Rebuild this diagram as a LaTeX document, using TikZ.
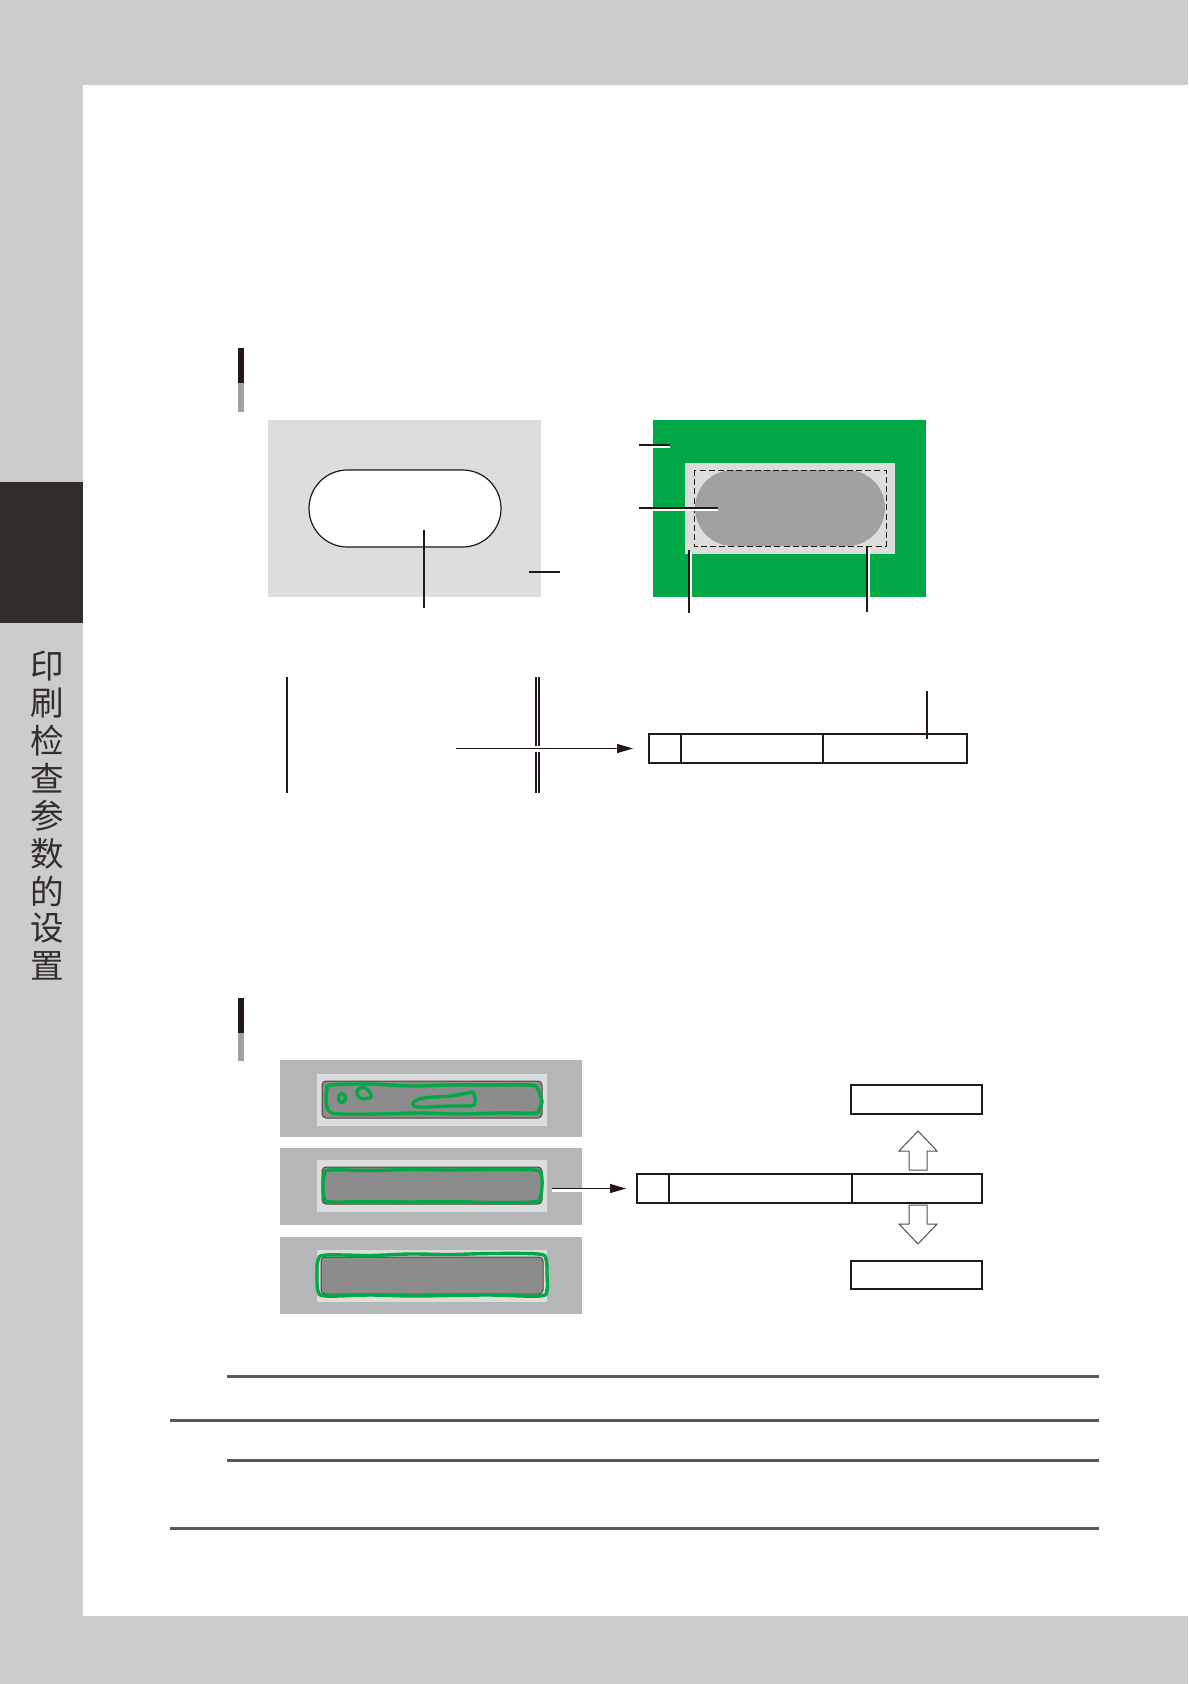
\documentclass[tikz,border=0pt]{standalone}
\usepackage{fontspec}
\newfontfamily\cjk{Noto Sans CJK SC}
\usetikzlibrary{arrows.meta}
\definecolor{pagegray}{HTML}{CCCCCC}
\definecolor{darkblock}{HTML}{332E2B}
\definecolor{barblack}{HTML}{231815}
\definecolor{bargray}{HTML}{A0A0A0}
\definecolor{lightbox}{HTML}{DCDEDD}
\definecolor{gbox}{HTML}{00A846}
\definecolor{stadgray}{HTML}{A0A1A0}
\definecolor{stripouter}{HTML}{B5B6B8}
\definecolor{stripdark}{HTML}{8C8C8C}
\definecolor{linecol}{HTML}{231815}
\definecolor{rulecol}{HTML}{58595B}
\definecolor{arrowgray}{HTML}{505050}
\begin{document}
\begin{tikzpicture}[x=0.5pt,y=-0.5pt,
  sidechar/.style={font=\cjk\fontsize{16.8pt}{16.8pt}\selectfont, text=darkblock, inner sep=0pt},
  leader/.style={draw=linecol, line width=0.6pt},
  halo/.style={draw=white, line width=1.8pt},
  cell/.style={draw=linecol, line width=0.6pt, inner sep=0pt, outer sep=0pt, minimum height=14.5pt},
  arrowline/.style={draw=linecol, line width=0.6pt, -{Triangle[length=8pt,width=4.5pt]}},
  greenline/.style={draw=gbox, line width=1.7pt},
  darkrect/.style={fill=stripdark, draw=linecol!80, line width=0.5pt, rounded corners=2pt},
  hollowarrow/.style={draw=arrowgray, fill=white, line width=0.5pt},
  rule/.style={draw=rulecol, line width=1.5pt}
]
\useasboundingbox (0,0) rectangle (1188,1684);
% page background
\fill[pagegray] (0,0) rectangle (1188,1684);
\fill[white] (83,85) rectangle (1188,1616);
\fill[darkblock] (0,482) rectangle (83,623);
% side title
\foreach \c [count=\i from 0] in {印,刷,检,查,参,数,的,设,置}
  \node[sidechar] (sc\i) at (47,{666+37.5*\i}) {\c};
% section markers
\fill[barblack] (238,348) rectangle (244,383);
\fill[bargray] (238,383) rectangle (244,412);
\fill[barblack] (238,998) rectangle (244,1033);
\fill[bargray] (238,1033) rectangle (244,1061);
% ---------- left diagram ----------
\node[fill=lightbox, inner sep=0pt, minimum width=136.5pt, minimum height=88.5pt] (lbox) at (404.5,508.5) {};
\draw[fill=white, draw=linecol, line width=0.6pt, rounded corners=19.2pt] (309,470) rectangle (501,547);
\draw[leader] (424,530) -- (424,608);
\draw[leader] (529,572) -- (560,572);
% ---------- right diagram ----------
\node[fill=gbox, inner sep=0pt, minimum width=136.5pt, minimum height=88.5pt] (gbx) at (789.5,508.5) {};
\fill[lightbox] (685,463) rectangle (895,554);
\fill[stadgray, rounded corners=19pt] (695,470) rectangle (885,546);
\draw[draw=linecol, line width=0.5pt, dash pattern=on 3pt off 1.6pt] (694,470) rectangle (886,546);
\draw[halo] (653,446) -- (670,446);
\draw[leader] (639,445) -- (670,445);
\draw[halo] (653,509) -- (718,509);
\draw[leader] (639,508) -- (718,508);
\draw[halo] (690,552) -- (690,597);
\draw[leader] (689,550) -- (689,613);
\draw[halo] (868,548) -- (868,597);
\draw[leader] (867,546) -- (867,612);
% ---------- row 2 diagram ----------
\draw[draw=linecol, line width=1pt] (287,677) -- (287,793);
\draw[draw=linecol, line width=0.7pt] (536,677) -- (536,793);
\draw[draw=linecol, line width=0.7pt] (539,677) -- (539,793);
\node[cell, minimum width=16pt] (c1) at (665,748.5) {};
\node[cell, minimum width=71pt] (c2) at (752,748.5) {};
\node[cell, minimum width=72pt] (c3) at (895,748.5) {};
\draw[draw=linecol, line width=1pt] (c1.north east) -- (c1.south east);
\draw[draw=linecol, line width=1pt] (c3.north east) -- (c3.south east);
\coordinate (a2s) at (456,748.5);
\draw[white, line width=3pt] (530,748.5) -- (545,748.5);
\draw[arrowline] (a2s) -- ([xshift=-8pt]c1.west);
\draw[leader] (927,691) -- (927,739);
% ---------- row 3: strips ----------
\fill[stripouter] (280,1060) rectangle (582,1137);
\fill[stripouter] (280,1148) rectangle (582,1225);
\fill[stripouter] (280,1237) rectangle (582,1314);
\node[fill=lightbox, inner sep=0pt, minimum width=115pt, minimum height=26pt] (s1) at (432,1100) {};
\node[fill=lightbox, inner sep=0pt, minimum width=115pt, minimum height=26pt] (s2) at (432,1186) {};
\node[fill=lightbox, inner sep=0pt, minimum width=115pt, minimum height=26pt] (s3) at (432,1276) {};
\draw[darkrect] (322,1081) rectangle (542,1118);
\draw[darkrect] (322,1167) rectangle (542,1204);
\draw[darkrect] (321,1257) rectangle (543,1294);
% green contours row 1
\draw[greenline] plot[smooth cycle, tension=0.6] coordinates {
 (331,1085) (370,1084) (410,1086) (450,1085) (490,1085) (530,1085) (537,1088) (540,1095)
 (542,1102) (539,1109) (535,1113) (500,1113) (460,1114) (420,1113) (380,1114) (340,1114)
 (329,1111) (326,1100) (327,1090)};
\draw[greenline] (342,1098) ellipse [x radius=3.5, y radius=4.5];
\draw[greenline] plot[smooth cycle, tension=0.7] coordinates {
 (357,1091) (362,1087.5) (368,1090) (371,1097) (365,1098.5) (359,1097.5)};
\draw[greenline] plot[smooth cycle, tension=0.6] coordinates {
 (414,1102) (424,1098) (450,1096) (468,1093) (473,1092.5) (475,1099) (474,1105)
 (466,1106) (448,1106) (424,1107) (414,1106)};
% green contours row 2
\draw[greenline] plot[smooth cycle, tension=0.55] coordinates {
 (330,1170) (370,1170.5) (410,1169.5) (450,1170) (490,1169.5) (534,1170) (541,1174)
 (542,1186) (540,1198) (533,1202) (490,1202.5) (450,1201.5) (410,1202) (370,1201.5)
 (330,1202) (324,1197) (323,1186) (324,1175)};
% green contours row 3
\draw[greenline] plot[smooth cycle, tension=0.55] coordinates {
 (326,1255) (370,1255.5) (410,1254) (450,1254.5) (490,1253.5) (538,1254) (546,1259)
 (547,1275) (547,1290) (540,1296) (490,1295) (450,1295.5) (410,1296) (370,1295)
 (326,1296) (318,1291) (317,1275) (318,1260)};
% ---------- row 3: flow boxes ----------
\node[cell, minimum width=16pt] (m1) at (653,1188.5) {};
\node[cell, minimum width=91.5pt] (m2) at (760.5,1188.5) {};
\node[cell, minimum width=65pt] (m3) at (917,1188.5) {};
\draw[draw=linecol, line width=1pt] (m1.north west) -- (m1.south west);
\draw[draw=linecol, line width=1pt] (m2.north east) -- (m2.south east);
\node[cell, minimum width=65.5pt] (top) at (916.5,1099.5) {};
\node[cell, minimum width=65.5pt, minimum height=14pt] (bot) at (916.5,1275) {};
\coordinate (a3s) at ([xshift=2.5pt]s2.east |- m1.west);
\draw[halo] ([yshift=-1pt]a3s) -- ([yshift=-1pt]582,1188.5);
\draw[arrowline] (a3s) -- ([xshift=-5.5pt]m1.west);
% hollow arrows
\draw[hollowarrow] (909,1170) -- (909,1151) -- (899,1151) -- (918,1131) -- (937,1151) -- (927,1151) -- (927,1170) -- cycle;
\draw[hollowarrow] (909,1205) -- (927,1205) -- (927,1224) -- (937,1224) -- (918,1244) -- (899,1224) -- (909,1224) -- cycle;
% ---------- bottom rules ----------
\draw[rule] (227,1376) -- (1099,1376);
\draw[rule] (170,1420) -- (1099,1420);
\draw[rule] (227,1460) -- (1099,1460);
\draw[rule] (170,1528) -- (1099,1528);
\end{tikzpicture}
\end{document}
